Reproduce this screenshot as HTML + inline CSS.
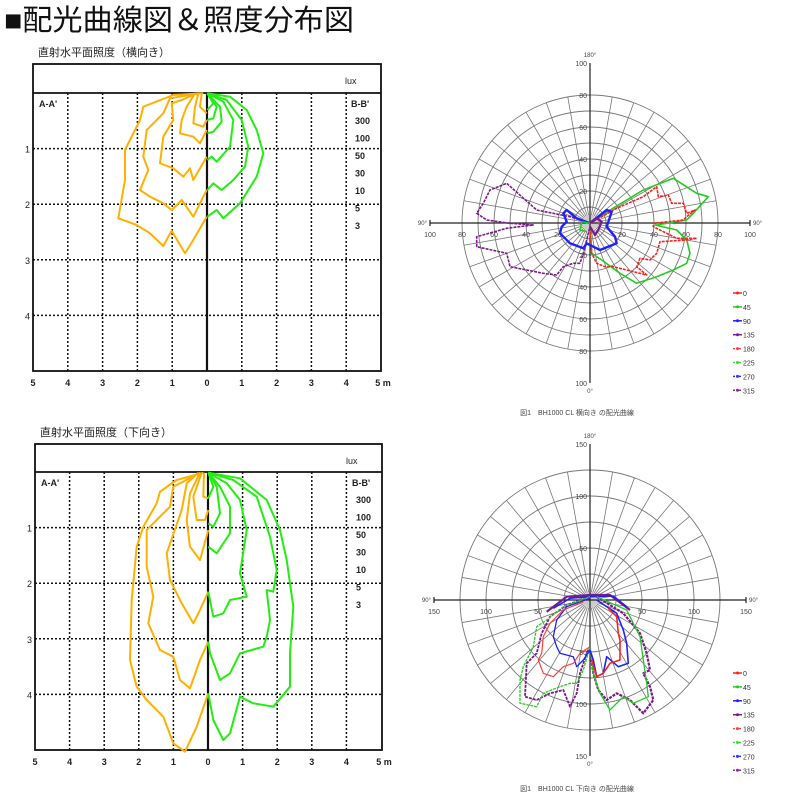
<!DOCTYPE html>
<html><head><meta charset="utf-8"><style>
html,body{margin:0;padding:0;background:#fff;}
svg{display:block;font-family:"Liberation Sans","Noto Sans CJK JP",sans-serif;}
</style></head><body>
<svg id="s" width="800" height="800" viewBox="0 0 800 800" xmlns="http://www.w3.org/2000/svg">
<text x="4" y="30" font-size="29" fill="#111" textLength="350" lengthAdjust="spacingAndGlyphs">■配光曲線図＆照度分布図</text>
</svg>
<script>
const S=document.getElementById('s');const NS='http://www.w3.org/2000/svg';
function el(t,a,txt){const e=document.createElementNS(NS,t);for(const k in a)e.setAttribute(k,a[k]);if(txt!==undefined)e.textContent=txt;S.appendChild(e);return e;}
function line(x1,y1,x2,y2,st,w,d){return el('line',{x1,y1,x2,y2,stroke:st,'stroke-width':w||1,'stroke-dasharray':d||'none'});}
function txt(x,y,t,sz,anc,fill,fw){return el('text',{x,y,'font-size':sz,'text-anchor':anc||'start',fill:fill||'#222','font-weight':fw||'normal'},t);}
function zpath(pts,ox,oy,col,w,dash){let d='';pts.forEach((p,i)=>{d+=(i?'L':'M')+(ox+p[0]/3).toFixed(1)+' '+(oy+p[1]/3).toFixed(1)+' ';});return el('path',{d,fill:'none',stroke:col,'stroke-width':w||1.6,'stroke-linejoin':'round','stroke-dasharray':dash||'none'});}

function illum(ox,oy,x0,x1,yt,yh,yb,cx,title){
  txt(x0+5,yt-8,title,11,'start','#222');
  const mx=(cx-x0)/5, my=(yb-yh)/5;
  for(let k=-4;k<=4;k++){if(k==0)continue;line(cx+k*mx,yh,cx+k*mx,yb,'#111',1.5,'2,2');}
  for(let k=1;k<=4;k++)line(x0,yh+k*my,x1,yh+k*my,'#111',1.5,'2,2');
  el('rect',{x:x0,y:yt,width:x1-x0,height:yb-yt,fill:'none',stroke:'#111','stroke-width':1.8});
  line(x0,yh,x1,yh,'#111',1.8);line(cx,yh,cx,yb,'#111',2.2);
  txt(x1-36,yt+20,'lux',9,'start');
  txt(x0+6,yh+14,"A-A'",9,'start','#222','bold');txt(x1-30,yh+14,"B-B'",9,'start','#222','bold');
  ['300','100','50','30','10','5','3'].forEach((t,i)=>txt(x1-26,yh+31+i*17.5,t,9,'start','#222','bold'));
  for(let k=1;k<=4;k++)txt(x0-3,yh+k*my+4,''+k,9,'end');
  [5,4,3,2,1,0,1,2,3,4].forEach((v,i)=>txt(x0+i*mx,yb+15,''+v,9,'middle','#222','bold'));
  txt(x1+2,yb+15,'5 m',9,'middle','#222','bold');
}
illum(0,40,33,381,64,93,371,207,'直射水平面照度（横向き）');
illum(0,420,35,382,444,472,750,208,'直射水平面照度（下向き）');

const OR='#ffb000',GR='#22ee11';
const TL=[
[[610,160],[520,165],[430,200],[420,240],[375,330],[375,420],[355,535],[410,555],[450,580],[490,618],[515,572],[555,640],[580,600],[620,530]],
[[600,160],[510,175],[490,220],[440,270],[430,350],[445,390],[420,450],[450,470],[490,490],[515,510],[545,480],[580,530],[620,450]],
[[590,160],[545,180],[515,190],[520,240],[490,290],[480,370],[520,385],[550,410],[570,385],[580,420],[620,350]],
[[585,160],[560,200],[545,240],[540,280],[580,290],[600,310],[620,270]],
[[595,160],[585,200],[580,250],[610,260],[620,240]],
[[605,160],[600,200],[620,220]]];
TL.forEach(p=>zpath(p,0,40,OR,2));
const TR=[
[[622,160],[690,170],[740,210],[770,270],[790,340],[770,410],[720,490],[670,535],[650,510],[622,530]],
[[622,160],[680,180],[725,240],[745,320],[735,380],[700,420],[665,450],[640,430],[622,450]],
[[622,160],[670,185],[700,240],[690,320],[650,365],[635,350],[622,360]],
[[622,160],[660,200],[665,245],[640,275],[622,280]],
[[622,160],[650,200],[640,235],[622,240]],
[[622,160],[640,190],[622,210]]];
TR.forEach(p=>zpath(p,0,40,GR,2));
const BL=[
[[610,158],[530,180],[480,215],[470,250],[430,320],[410,380],[395,540],[390,720],[410,800],[440,840],[490,890],[520,970],[555,995],[590,920],[625,820]],
[[600,158],[520,200],[510,260],[440,330],[440,440],[460,530],[445,610],[480,690],[520,710],[540,780],[570,805],[600,720],[625,665]],
[[595,158],[560,190],[545,270],[500,400],[510,480],[545,550],[580,610],[600,570],[625,515]],
[[600,158],[570,220],[560,300],[570,380],[600,420],[625,330]],
[[605,158],[580,230],[590,300],[615,300],[625,270]],
[[612,158],[610,230],[625,235]]];
BL.forEach(p=>zpath(p,0,420,OR,2));
const BR=[
[[625,158],[720,175],[800,240],[840,330],[860,420],[880,560],[870,700],[870,800],[820,860],[760,850],[720,830],[690,940],[670,960],[640,900],[625,820]],
[[625,158],[700,180],[770,230],[810,350],[830,450],[820,515],[800,510],[810,600],[800,650],[790,680],[720,700],[690,760],[660,780],[630,700],[625,665]],
[[625,158],[680,190],[720,240],[740,330],[720,460],[740,530],[690,540],[670,580],[640,590],[625,515]],
[[625,158],[660,200],[690,260],[690,340],[650,400],[625,380]],
[[625,158],[650,200],[660,280],[640,320],[625,310]],
[[625,158],[640,200],[625,235]]];
BR.forEach(p=>zpath(p,0,420,GR,2));

function polar(cx,cy,rings,step,scale,axisMax,labStep,caption,lyTop){
  const R=rings*step*scale;
  for(let a=0;a<360;a+=10){const r=a*Math.PI/180;line(cx+8*Math.cos(r),cy+8*Math.sin(r),cx+R*Math.cos(r),cy+R*Math.sin(r),'#777',0.8);}
  for(let i=1;i<=rings;i++)el('circle',{cx,cy,r:i*step*scale,fill:'none',stroke:'#777','stroke-width':0.9});
  el('circle',{cx,cy,r:8,fill:'#ccc'});
  const A=axisMax*scale;
  line(cx,cy-A,cx,cy+A,'#222',1.2);line(cx-A,cy,cx+A,cy,'#222',1.2);
  line(cx-A,cy-3,cx-A,cy+3,'#222',1.2);line(cx+A,cy-3,cx+A,cy+3,'#222',1.2);
  for(let v=labStep;v<=axisMax;v+=labStep){
    txt(cx-3,cy-v*scale+3,''+v,7,'end','#444');txt(cx-3,cy+v*scale+3,''+v,7,'end','#444');
    txt(cx-v*scale,cy+14,''+v,7,'middle','#444');txt(cx+v*scale,cy+14,''+v,7,'middle','#444');
  }
  txt(cx,cy-A-6,'180°',6,'middle','#444');txt(cx,cy+A+10,'0°',6,'middle','#444');
  txt(cx-A-3,cy+2,'90°',6,'end','#444');txt(cx+A+3,cy+2,'90°',6,'start','#444');
  txt(cx-13,caption[1],caption[0],7,'middle','#444');
  const cols=['#ff2020','#22cc22','#2020ff','#7a1a8a','#ff4040','#33dd33','#3030ff','#8a2a9a'];
  const labs=['0','45','90','135','180','225','270','315'];
  labs.forEach((l,i)=>{const y=lyTop+i*13.9;line(733,y-3,742,y-3,cols[i],1.5,i>=4?'2,1':'none');el('circle',{cx:737.5,cy:y-3,r:1.5,fill:cols[i]});txt(743,y,l,7,'start','#333');});
}
polar(590,223,8,10,1.6,100,20,['図1　BH1000 CL 横向き の配光曲線',415],296);
polar(590,600,5,25,1.04,150,50,['図1　BH1000 CL 下向き の配光曲線',791],676);

const R='#ff2020',G='#22cc22',B='#2020ff',P='#7a1a8a';
zpath([[540,550],[600,510],[700,450],[790,415],[860,460],[895,470],[850,520],[830,540],[740,555],[735,555],[800,570],[830,600],[840,640],[830,670],[790,690],[740,710],[680,730],[630,700],[575,660],[545,640],[540,560]],410,40,G,1.6);
zpath([[540,550],[620,505],[700,470],[740,440],[745,470],[775,465],[785,490],[820,490],[830,520],[855,510],[830,530],[820,540],[730,550],[730,560],[770,580],[800,595],[860,595],[830,600],[750,605],[740,640],[720,660],[690,655],[680,680],[710,705],[650,690],[610,680],[585,680],[560,670],[545,640],[540,560]],410,40,R,1.6,'3,1');
zpath([[540,550],[480,530],[380,510],[290,430],[240,450],[220,490],[200,520],[230,540],[300,550],[370,555],[290,565],[200,590],[200,620],[290,640],[300,680],[350,690],[400,700],[440,705],[460,680],[490,670],[510,670],[520,640],[540,560]],410,40,P,1.6,'3,1');
zpath([[540,550],[500,535],[470,510],[460,520],[470,545],[455,560],[450,580],[480,610],[520,625],[530,610],[550,620],[570,630],[620,610],[615,590],[590,560],[605,515],[590,510],[545,545]],410,40,B,2.4);
zpath([[540,550],[560,535],[575,545],[565,570],[555,585],[540,560]],410,40,P,2.2);
zpath([[540,550],[515,545],[510,570],[530,575]],410,40,G,1.5);

zpath([[410,575],[470,530],[540,525],[600,525],[660,570]],410,420,P,2.2);
zpath([[430,565],[480,535],[540,530],[610,528],[650,560]],410,420,B,1.5);
zpath([[560,530],[640,580],[690,640],[710,700],[720,750],[700,760],[720,800],[730,840],[700,880],[660,840],[620,820],[590,840],[565,810],[550,760],[540,690]],410,420,P,2.2,'3,1');
zpath([[560,530],[650,570],[690,650],[700,720],[710,790],[715,830],[670,850],[640,830],[600,870],[570,820],[550,760],[540,680]],410,420,G,1.3);
zpath([[560,540],[620,580],[640,630],[650,670],[655,730],[625,740],[590,710],[580,760],[560,770],[550,720],[540,690]],410,420,B,1.6);
zpath([[595,565],[620,590],[625,640],[630,660],[630,720],[600,730],[580,760],[560,770],[545,720]],410,420,R,1.6);
zpath([[540,530],[470,555],[420,590],[395,640],[380,700],[350,730],[345,830],[380,840],[420,820],[460,810],[480,860],[500,820],[510,760],[530,700],[540,680]],410,420,P,1.8,'3,1');
zpath([[540,530],[460,560],[410,600],[380,620],[370,680],[340,740],[330,780],[330,850],[380,860],[400,820],[450,800],[480,790],[500,790],[520,750],[540,680]],410,420,G,1.3,'3,1');
zpath([[540,535],[470,560],[440,600],[430,650],[440,680],[450,700],[490,710],[500,740],[520,720],[540,690]],410,420,B,1.3);
zpath([[520,545],[460,570],[420,610],[400,650],[395,700],[385,720],[400,760],[430,770],[460,740],[490,730],[510,700],[540,680]],410,420,'#ff4040',1.2);
</script>
</body></html>
